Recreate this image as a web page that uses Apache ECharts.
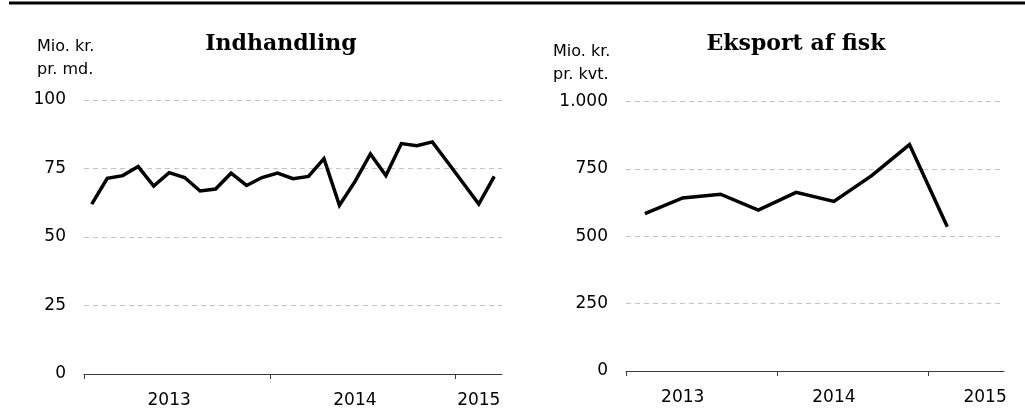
<!DOCTYPE html>
<html>
<head>
<meta charset="utf-8">
<script src="https://cdn.jsdelivr.net/npm/echarts@6/dist/echarts.min.js"></script>
<style>
  html, body { margin: 0; padding: 0; background: #fff; }
  #chart { width: 1025px; height: 415px; }
</style>
</head>
<body>
<div id="chart"></div>
<script>
// Indhandling, mio. kr. pr. måned (jan 2013 - mar 2015)
const months = [
  'jan 13', 'feb 13', 'mar 13', 'apr 13', 'maj 13', 'jun 13', 'jul 13', 'aug 13', 'sep 13', 'okt 13', 'nov 13', 'dec 13',
  'jan 14', 'feb 14', 'mar 14', 'apr 14', 'maj 14', 'jun 14', 'jul 14', 'aug 14', 'sep 14', 'okt 14', 'nov 14', 'dec 14',
  'jan 15', 'feb 15', 'mar 15'
]
const indhandling = [
  62.0, 71.4, 72.4, 75.7, 68.6, 73.5, 71.7, 66.8, 67.5, 73.3, 68.8, 71.7,
  73.3, 71.3, 72.1, 78.6, 61.6, 70.2, 80.3, 72.4, 84.1, 83.3, 84.7, 77.2,
  69.6, 62.0, 72.1
]

// Eksport af fisk, mio. kr. pr. kvartal (K1 2013 - K1 2015, aksen går til K2 2015)
const quarters = ['K1 13', 'K2 13', 'K3 13', 'K4 13', 'K1 14', 'K2 14', 'K3 14', 'K4 14', 'K1 15', 'K2 15']
const eksport = [584, 642, 656, 597, 663, 629, 725, 840, 535]

// aarstal og hvor de staar paa aksen (index i kategorierne)
const yearLabels = ['2013', '2014', '2015']
const monthLabelPos = [5, 17, 25]
const monthTickPos = [-0.5, 11.5, 23.5]
const quarterLabelPos = [1, 5, 9]
const quarterTickPos = [-0.5, 3.5, 7.5]

const leftTicks = [0, 25, 50, 75, 100]
const rightTicks = [0, 250, 500, 750, 1000]

const sans = 'DejaVu Sans'
const serif = 'DejaVu Serif'

const chart = echarts.init(document.getElementById('chart'), null, { renderer: 'canvas' })

const xAxisBase = (count, tickPos, labelPos, gridIndex) => ({
  type: 'value',
  gridIndex,
  min: -0.5,
  max: count - 0.5,
  splitLine: { show: false },
  axisLine: { show: true, lineStyle: { color: '#3a3a3a', width: 1 } },
  axisTick: { show: true, customValues: tickPos, length: 5, inside: false, lineStyle: { color: '#3a3a3a' } },
  axisLabel: {
    customValues: labelPos,
    formatter: v => yearLabels[labelPos.indexOf(v)] || '',
    margin: 18,
    color: '#000',
    fontFamily: sans,
    fontSize: 17
  }
})

const yAxisBase = (ticks, gridIndex, fmt) => ({
  type: 'value',
  gridIndex,
  min: ticks[0],
  max: ticks[ticks.length - 1],
  interval: ticks[1] - ticks[0],
  axisLine: { show: false },
  axisTick: { show: false },
  splitLine: { show: true, lineStyle: { color: '#c4c4c4', type: [5, 4], width: 1 } },
  axisLabel: { margin: 18, color: '#000', fontFamily: sans, fontSize: 17, formatter: fmt }
})

const option = {
  animation: false,
  backgroundColor: '#fff',
  grid: [
    { left: 84, right: 523, top: 100, bottom: 41 },
    { left: 626, right: 21, top: 101.5, bottom: 44 }
  ],
  xAxis: [
    xAxisBase(months.length, monthTickPos, monthLabelPos, 0),
    xAxisBase(quarters.length, quarterTickPos, quarterLabelPos, 1)
  ],
  yAxis: [
    yAxisBase(leftTicks, 0, v => String(v)),
    yAxisBase(rightTicks, 1, v => v.toLocaleString('da-DK'))
  ],
  series: [
    {
      name: 'Indhandling',
      type: 'line',
      xAxisIndex: 0,
      yAxisIndex: 0,
      symbol: 'none',
      data: indhandling.map((v, i) => [i, v]),
      lineStyle: { color: '#000', width: 3.5, join: 'miter' }
    },
    {
      name: 'Eksport af fisk',
      type: 'line',
      xAxisIndex: 1,
      yAxisIndex: 1,
      symbol: 'none',
      data: eksport.map((v, i) => [i, v]),
      lineStyle: { color: '#000', width: 3.5, join: 'miter' }
    }
  ],
  graphic: [
    { type: 'line', shape: { x1: 9, y1: 3, x2: 1025, y2: 3 }, style: { stroke: '#000', lineWidth: 3 } },
    {
      type: 'text', x: 281, y: 44,
      style: { text: 'Indhandling', fontFamily: serif, fontWeight: 'bold', fontSize: 22, fill: '#000', align: 'center', verticalAlign: 'middle' }
    },
    {
      type: 'text', x: 796, y: 44,
      style: { text: 'Eksport af fisk', fontFamily: serif, fontWeight: 'bold', fontSize: 22, fill: '#000', align: 'center', verticalAlign: 'middle' }
    },
    {
      type: 'text', x: 37, y: 35,
      style: { text: 'Mio. kr.\npr. md.', fontFamily: sans, fontSize: 16, lineHeight: 23, fill: '#000', align: 'left' }
    },
    {
      type: 'text', x: 553, y: 40,
      style: { text: 'Mio. kr.\npr. kvt.', fontFamily: sans, fontSize: 16, lineHeight: 23, fill: '#000', align: 'left' }
    }
  ]
}

chart.setOption(option)
</script>
</body>
</html>
